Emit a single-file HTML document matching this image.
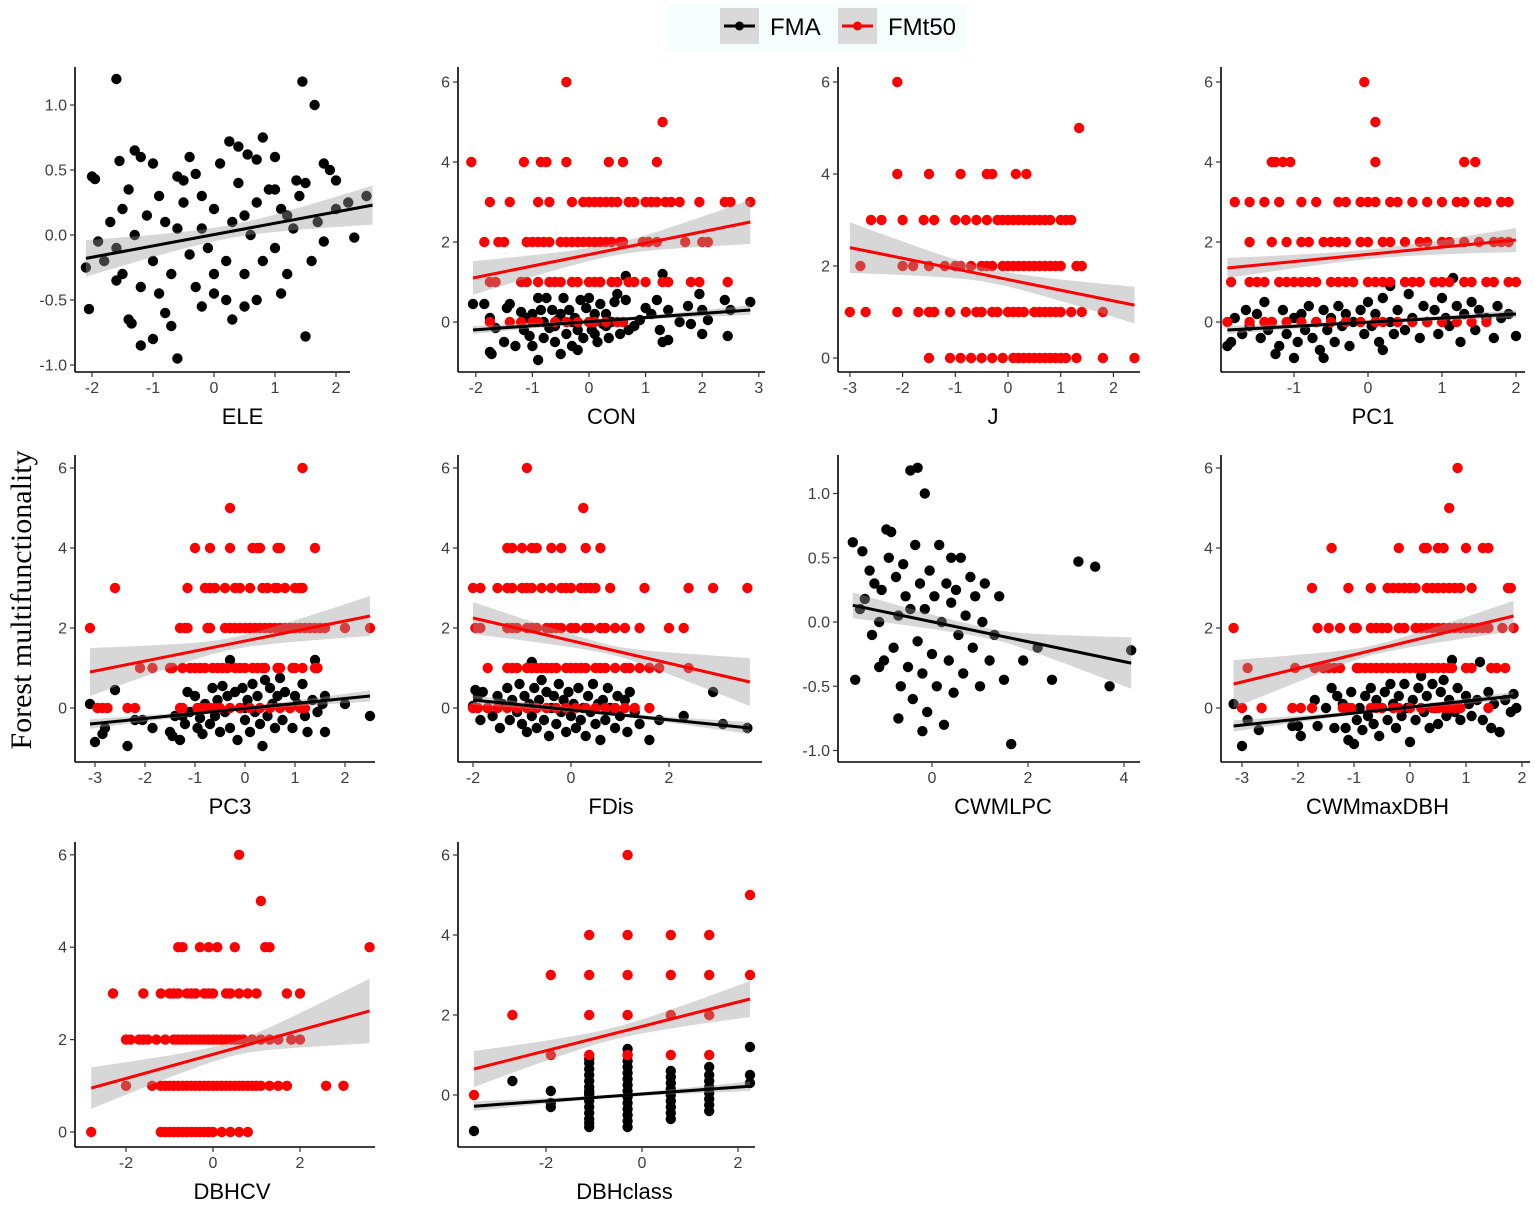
<!DOCTYPE html>
<html><head><meta charset="utf-8">
<style>
html,body{margin:0;padding:0;background:#fff;}
svg{display:block;font-family:"Liberation Sans",sans-serif;}
</style></head>
<body>
<svg id="chart" width="1535" height="1205" viewBox="0 0 1535 1205" xmlns="http://www.w3.org/2000/svg">
<rect x="0" y="0" width="1535" height="1205" fill="#fff"/>
<g>
<rect x="668" y="4" width="297" height="46" fill="#f6fdfd"/>
<g>
<rect x="720" y="8" width="39" height="36" fill="#d9d9d9"/>
<line x1="724" y1="26" x2="755" y2="26" stroke="#000" stroke-width="3"/>
<circle cx="739.5" cy="26" r="4.5" fill="#000"/>
<text x="770" y="35" font-size="24" fill="#000">FMA</text>
</g>
<g>
<rect x="838" y="8" width="39" height="36" fill="#d9d9d9"/>
<line x1="842" y1="26" x2="873" y2="26" stroke="#f00" stroke-width="3"/>
<circle cx="857.5" cy="26" r="4.5" fill="#f00"/>
<text x="888" y="35" font-size="24" fill="#000">FMt50</text>
</g>
</g>
<text transform="translate(31,600) rotate(-90)" text-anchor="middle" font-family="'Liberation Serif',serif" font-size="30" fill="#000">Forest multifunctionality</text>
<g id="panels"></g>
</svg>
<script>
// ---------- data ----------
const ELE_fma=[[-1.6,1.2],[1.45,1.18],[1.65,1.0],[-2,0.45],[-1.95,0.43],[-1.55,0.57],[-1.3,0.65],[-1.2,0.6],[-1.0,0.55],[-0.6,0.45],[-0.5,0.42],[-0.3,0.47],[0.25,0.72],[0.4,0.68],[0.55,0.62],[0.8,0.75],[0.7,0.58],[1.0,0.6],[1.35,0.42],[1.5,0.4],[1.8,0.55],[1.9,0.5],[2.0,0.42],[2.5,0.3],[-2.1,-0.25],[-2.05,-0.57],[-1.8,-0.2],[-1.6,-0.1],[-1.5,-0.3],[-1.4,-0.65],[-1.35,-0.68],[-1.2,-0.85],[-1.0,-0.8],[-0.6,-0.95],[-0.8,-0.6],[-0.7,-0.7],[-0.3,-0.4],[0,-0.45],[0.2,-0.5],[0.5,-0.55],[0.7,-0.5],[1.1,-0.45],[1.5,-0.78],[1.2,-0.3],[1.8,-0.05],[2.3,-0.02],[2.2,0.25],[2.0,0.2],[1.7,0.1],[1.3,0.05],[1.0,-0.1],[0.6,0.0],[0.3,0.1],[0.0,0.2],[-0.2,0.3],[-0.5,0.25],[-0.9,0.3],[-1.1,0.15],[-1.3,0.0],[-1.5,0.2],[-1.7,0.1],[-1.9,-0.05],[-1.0,-0.2],[-0.7,-0.3],[-0.4,-0.15],[-0.1,-0.1],[0.2,-0.2],[0.5,-0.3],[0.8,-0.2],[1.1,0.2],[1.4,0.3],[0.9,0.35],[0.4,0.4],[-0.2,0.05],[-0.6,0.05],[-1.2,-0.4],[-0.9,-0.45],[0.1,0.55],[-0.4,0.6],[1.2,0.15],[1.6,-0.2],[0.7,0.25],[-1.6,-0.35],[-0.8,0.1],[0.0,-0.3],[0.3,-0.65],[-0.2,-0.55],[1.0,0.35],[0.5,0.15],[-1.4,0.35]];
const ELE_fmaLine=[-2.1,-0.18,2.6,0.23];
const ELE_fmaCI=[0.14,0.05,0.15];

const CON_fma=[[-2.05,0.45],[-1.85,0.45],[-1.75,0.1],[-1.75,-0.75],[-1.72,-0.8],[-1.65,-0.15],[-1.5,-0.5],[-1.45,0.35],[-1.4,0.45],[-1.3,-0.6],[-1.2,0.25],[-1.15,-0.2],[-1.1,0.1],[-1.05,-0.35],[-1.0,-0.6],[-0.95,0.0],[-0.9,-0.95],[-0.9,0.6],[-0.85,0.3],[-0.8,-0.4],[-0.75,0.6],[-0.7,-0.15],[-0.65,0.3],[-0.6,-0.5],[-0.55,0.05],[-0.5,-0.8],[-0.45,0.6],[-0.4,-0.3],[-0.35,0.3],[-0.3,-0.6],[-0.25,0.1],[-0.2,-0.2],[-0.15,0.55],[-0.1,-0.4],[-0.05,0.35],[0,0.6],[0.05,-0.2],[0.1,0.2],[0.15,-0.5],[0.2,0.45],[0.25,-0.05],[0.3,0.2],[0.35,-0.4],[0.45,0.5],[0.5,0.7],[0.55,-0.3],[0.65,0.55],[0.65,1.15],[0.7,-0.2],[0.8,-0.1],[0.9,0.05],[1.0,0.35],[1.1,0.2],[1.2,0.55],[1.25,-0.2],[1.3,1.2],[1.3,-0.5],[1.4,-0.45],[1.4,0.3],[1.6,0.0],[1.75,0.4],[1.8,-0.05],[1.95,0.7],[2.0,0.3],[2.0,-0.3],[2.1,0.05],[2.4,0.55],[2.45,-0.35],[2.5,0.3],[2.85,0.5],[-0.8,0.0],[-0.6,-0.1],[-0.3,0.0],[0,0.0],[0.3,-0.1],[-1.0,0.2],[-0.5,0.2],[0.1,-0.3],[-0.2,-0.7],[0.4,0.0]];
const CON_fmt=[[-1.75,-1.4,-1.2,-1.0,-0.9,-0.6,-0.4,-0.2,0,0.1,0.3,0.5,0.6],[-1.75,-1.65,-1.2,-1.1,-0.9,-0.7,-0.6,-0.5,-0.3,-0.2,0,0.1,0.2,0.4,0.5,0.7,0.8,1.0,1.3,1.4,1.8,1.95,2.45],[-1.85,-1.6,-1.5,-1.1,-1.0,-0.9,-0.8,-0.7,-0.5,-0.4,-0.3,-0.2,-0.1,0,0.1,0.2,0.3,0.4,0.55,0.6,0.95,1.05,1.2,1.7,2.0,2.1],[-1.75,-1.4,-0.9,-0.7,-0.3,-0.1,0,0.1,0.2,0.3,0.4,0.5,0.7,0.8,1.0,1.1,1.2,1.35,1.45,1.6,1.95,2.4,2.5,2.85],[-2.08,-1.15,-0.85,-0.75,-0.4,0.35,0.6,1.2],[1.3],[-0.4]];
const CON_fmaLine=[-2.05,-0.2,2.85,0.3];
const CON_fmaCI=[0.1,0.04,0.12];
const CON_fmtLine=[-2.05,1.1,2.85,2.5];
const CON_fmtCI=[0.42,0.15,0.55];

const J_fmt=[[-1.5,-1.1,-0.9,-0.7,-0.5,-0.3,-0.1,0.1,0.2,0.3,0.4,0.5,0.6,0.7,0.8,0.9,1.0,1.1,1.3,1.8,2.4],[-3.0,-2.7,-2.1,-1.7,-1.5,-1.4,-1.1,-0.8,-0.6,-0.5,-0.3,-0.2,0,0.1,0.2,0.3,0.5,0.6,0.7,0.8,0.9,1.0,1.2,1.4,1.8],[-2.8,-2.0,-1.8,-1.5,-1.2,-1.0,-0.9,-0.7,-0.5,-0.4,-0.3,-0.1,0,0.1,0.2,0.3,0.4,0.5,0.6,0.7,0.8,0.9,1.0,1.3,1.4],[-2.6,-2.4,-2.0,-1.6,-1.4,-1.0,-0.8,-0.6,-0.4,-0.2,-0.1,0,0.1,0.2,0.3,0.4,0.5,0.6,0.7,0.8,1.0,1.1,1.2],[-2.1,-1.5,-0.9,-0.4,-0.3,0.15,0.35],[1.35],[-2.1]];
const J_fmtLine=[-3.0,2.4,2.4,1.15];
const J_fmtCI=[0.55,0.15,0.4];

const PC1_fma=[[-1.9,-0.6],[-1.85,-0.5],[-1.8,0.1],[-1.7,-0.3],[-1.65,0.3],[-1.6,-0.1],[-1.5,0.2],[-1.45,-0.4],[-1.4,0.5],[-1.35,-0.2],[-1.3,0.0],[-1.25,-0.8],[-1.2,-0.6],[-1.15,0.3],[-1.1,-0.3],[-1.0,0.1],[-0.95,-0.5],[-0.9,0.2],[-0.85,-0.2],[-0.8,0.4],[-0.75,-0.4],[-0.7,0.0],[-0.65,-0.7],[-0.6,0.3],[-0.55,-0.2],[-0.5,0.1],[-0.45,-0.5],[-0.4,0.4],[-0.35,-0.1],[-0.3,0.2],[-0.25,-0.6],[-0.2,0.0],[-0.1,0.3],[-0.05,-0.3],[0,0.5],[0.05,-0.1],[0.1,0.2],[0.15,-0.5],[0.2,0.6],[0.3,0.0],[0.35,-0.3],[0.4,0.3],[0.5,-0.2],[0.55,0.7],[0.6,0.1],[0.7,-0.4],[0.75,0.4],[0.8,0.0],[0.9,0.3],[0.95,-0.3],[1.0,0.6],[1.05,0.1],[1.1,-0.1],[1.2,0.4],[1.25,-0.5],[1.3,0.2],[1.4,0.5],[1.45,-0.2],[1.5,0.3],[1.6,0.1],[1.7,-0.4],[1.75,0.4],[1.8,0.1],[1.9,0.2],[2.0,-0.35],[-0.6,-0.9],[0.2,-0.7],[-1.0,-0.9],[1.15,1.1],[0.3,0.9]];
const PC1_fmt=[[-1.9,-1.6,-1.4,-1.3,-1.1,-0.9,-0.7,-0.5,-0.3,-0.1,0.1,0.2,0.4,0.6,0.8,1.0,1.2,1.4,1.6],[-1.85,-1.6,-1.5,-1.4,-1.2,-1.1,-1.0,-0.9,-0.8,-0.7,-0.5,-0.4,-0.3,-0.2,0,0.1,0.2,0.3,0.5,0.6,0.7,0.9,1.0,1.1,1.3,1.4,1.6,1.7,1.9,2.0],[-1.6,-1.3,-1.1,-0.9,-0.8,-0.6,-0.5,-0.4,-0.3,-0.1,0,0.2,0.3,0.5,0.7,0.8,1.0,1.1,1.3,1.5,1.7,1.8,1.9],[-1.8,-1.6,-1.4,-1.2,-0.9,-0.7,-0.4,-0.3,-0.1,0,0.1,0.3,0.4,0.6,0.8,1.0,1.2,1.3,1.5,1.6,1.8,1.9],[-1.3,-1.25,-1.15,-1.05,0.1,1.3,1.45],[0.1],[-0.05]];
const PC1_fmaLine=[-1.9,-0.2,2.0,0.2];
const PC1_fmaCI=[0.1,0.04,0.1];
const PC1_fmtLine=[-1.9,1.35,2.0,2.05];
const PC1_fmtCI=[0.25,0.12,0.3];

const PC3_fma=[[-3.1,0.1],[-3.0,-0.85],[-2.85,-0.65],[-2.8,-0.5],[-2.6,0.45],[-2.35,-0.95],[-2.2,-0.3],[-2.05,-0.3],[-1.85,-0.5],[-1.5,-0.6],[-1.45,-0.7],[-1.4,-0.2],[-1.3,-0.8],[-1.2,-0.4],[-1.15,0.4],[-1.1,-0.1],[-1.0,0.3],[-0.95,-0.5],[-0.9,-0.25],[-0.85,-0.65],[-0.8,0.1],[-0.7,-0.4],[-0.65,0.5],[-0.6,-0.2],[-0.55,0.2],[-0.5,-0.6],[-0.45,0.55],[-0.4,-0.1],[-0.35,0.3],[-0.3,1.2],[-0.3,-0.5],[-0.2,0.4],[-0.15,-0.8],[-0.1,0.0],[-0.05,0.5],[0,-0.3],[0.05,0.2],[0.1,-0.6],[0.15,0.6],[0.2,-0.1],[0.25,0.3],[0.3,-0.4],[0.35,-0.95],[0.4,0.7],[0.45,-0.2],[0.5,0.5],[0.55,0.1],[0.6,-0.5],[0.65,0.3],[0.7,0.75],[0.75,-0.3],[0.8,0.4],[0.9,0.0],[0.95,-0.5],[1.0,0.3],[1.05,0.1],[1.15,0.6],[1.2,-0.2],[1.25,-0.6],[1.35,0.2],[1.4,1.2],[1.45,-0.1],[1.55,0.1],[1.6,0.3],[1.6,-0.6],[2.0,0.1],[2.5,-0.2],[-1.25,-0.2],[-0.75,0.0],[0.0,0.0]];
const PC3_fmt=[[-2.95,-2.85,-2.75,-2.35,-2.2,-1.3,-1.25,-0.95,-0.9,-0.8,-0.7,-0.6,-0.5,-0.3,-0.1,0.1,0.3,0.5,0.7,0.9,1.1,1.2],[-2.1,-1.85,-1.5,-1.45,-1.25,-1.1,-1.0,-0.9,-0.8,-0.65,-0.55,-0.45,-0.35,-0.2,-0.1,0,0.15,0.25,0.35,0.4,0.65,0.7,0.95,1.0,1.15,1.4,1.45],[-3.1,-1.3,-1.2,-1.15,-0.75,-0.7,-0.4,-0.3,-0.2,-0.1,0,0.1,0.2,0.3,0.4,0.5,0.6,0.7,0.8,0.9,1.0,1.1,1.2,1.3,1.4,1.5,1.6,2.0,2.5],[-2.6,-1.15,-0.8,-0.7,-0.6,-0.4,-0.2,-0.1,0.1,0.35,0.45,0.6,0.65,0.8,1.0,1.1,1.15],[-1.0,-0.7,-0.3,0.15,0.25,0.3,0.65,0.7,1.4],[-0.3],[1.15]];
const PC3_fmaLine=[-3.1,-0.4,2.5,0.3];
const PC3_fmaCI=[0.12,0.04,0.14];
const PC3_fmtLine=[-3.1,0.9,2.5,2.3];
const PC3_fmtCI=[0.6,0.15,0.5];

const FDIS_fma=[[-2.0,0.05],[-1.95,0.45],[-1.9,0.3],[-1.85,-0.3],[-1.8,0.4],[-1.7,0.0],[-1.6,-0.2],[-1.5,0.3],[-1.45,-0.5],[-1.4,0.1],[-1.3,0.5],[-1.25,-0.3],[-1.2,0.2],[-1.1,-0.1],[-1.05,0.6],[-1.0,-0.4],[-0.95,0.3],[-0.9,-0.6],[-0.85,0.1],[-0.8,1.15],[-0.8,-0.2],[-0.75,0.5],[-0.7,-0.5],[-0.65,0.2],[-0.6,0.7],[-0.55,-0.3],[-0.5,0.4],[-0.45,-0.7],[-0.4,0.0],[-0.35,0.3],[-0.3,-0.4],[-0.25,0.6],[-0.2,-0.1],[-0.15,0.2],[-0.1,-0.6],[-0.05,0.4],[0,-0.2],[0.05,0.1],[0.1,-0.5],[0.15,0.5],[0.2,-0.3],[0.25,0.0],[0.3,-0.7],[0.35,0.3],[0.4,-0.1],[0.45,0.6],[0.5,-0.4],[0.55,0.1],[0.6,-0.8],[0.65,0.2],[0.7,-0.3],[0.75,0.5],[0.8,0.0],[0.9,-0.5],[0.95,0.3],[1.0,-0.2],[1.1,0.2],[1.15,-0.6],[1.2,0.4],[1.3,-0.1],[1.4,-0.4],[1.6,-0.8],[1.8,-0.3],[2.3,-0.2],[2.9,0.4],[3.1,-0.4],[3.6,-0.5]];
const FDIS_fmt=[[-2.0,-1.9,-1.7,-1.5,-1.3,-1.1,-0.9,-0.7,-0.5,-0.3,-0.1,0.1,0.3,0.5,0.7,0.9,1.1,1.3,1.6],[-1.7,-1.3,-1.2,-1.1,-0.9,-0.8,-0.7,-0.6,-0.5,-0.4,-0.3,-0.1,0,0.1,0.2,0.3,0.5,0.6,0.7,0.9,1.1,1.2,1.4,1.6,1.8,2.4],[-1.95,-1.85,-1.3,-1.2,-1.1,-0.9,-0.8,-0.7,-0.5,-0.4,-0.3,-0.2,0,0.1,0.3,0.4,0.6,0.7,0.9,1.1,1.4,2.0,2.3],[-2.0,-1.85,-1.5,-1.3,-1.2,-1.0,-0.9,-0.8,-0.6,-0.4,-0.2,-0.1,0,0.2,0.3,0.4,0.5,0.8,1.5,2.4,2.9,3.6],[-1.3,-1.2,-1.0,-0.8,-0.7,-0.4,-0.2,0.3,0.6],[0.25],[-0.9]];
const FDIS_fmaLine=[-2.0,0.2,3.65,-0.5];
const FDIS_fmaCI=[0.12,0.04,0.15];
const FDIS_fmtLine=[-2.0,2.25,3.65,0.65];
const FDIS_fmtCI=[0.4,0.12,0.6];

const CWMLPC_fma=[[-1.65,0.62],[-1.6,-0.45],[-1.5,0.1],[-1.45,0.55],[-1.4,0.18],[-1.3,0.4],[-1.25,-0.1],[-1.2,0.3],[-1.1,0.0],[-1.05,0.25],[-1.0,-0.3],[-0.95,0.72],[-0.9,0.5],[-0.85,0.7],[-0.8,-0.2],[-0.75,0.35],[-0.7,0.05],[-0.65,-0.5],[-0.6,0.45],[-0.55,0.2],[-0.5,-0.35],[-0.45,1.18],[-0.45,0.1],[-0.4,-0.6],[-0.35,0.6],[-0.3,1.2],[-0.3,-0.15],[-0.25,0.3],[-0.2,-0.4],[-0.15,1.0],[-0.15,0.1],[-0.1,-0.7],[-0.05,0.4],[0,-0.25],[0.05,0.2],[0.1,-0.5],[0.15,0.6],[0.2,0.0],[0.25,-0.8],[0.3,0.3],[0.35,-0.3],[0.4,0.15],[0.45,-0.55],[0.5,0.25],[0.55,-0.1],[0.6,0.5],[0.65,-0.4],[0.7,0.05],[0.8,0.35],[0.85,-0.2],[0.9,0.2],[1.0,-0.5],[1.05,0.0],[1.1,0.3],[1.2,-0.3],[1.3,-0.1],[1.4,0.2],[1.5,-0.45],[1.65,-0.95],[1.9,-0.3],[2.2,-0.2],[2.5,-0.45],[3.05,0.47],[3.4,0.43],[3.7,-0.5],[4.15,-0.22],[-0.7,-0.75],[-0.2,-0.85],[0.4,0.5],[-1.1,-0.35]];
const CWMLPC_fmaLine=[-1.65,0.13,4.15,-0.32];
const CWMLPC_fmaCI=[0.1,0.04,0.2];

const CWMMAX_fma=[[-3.15,0.1],[-3.0,-0.95],[-2.9,-0.3],[-2.7,-0.55],[-2.1,-0.45],[-2.0,-0.45],[-1.95,-0.7],[-1.7,0.2],[-1.65,-0.45],[-1.5,0.0],[-1.4,0.5],[-1.35,-0.5],[-1.3,0.3],[-1.2,0.1],[-1.15,-0.5],[-1.1,-0.8],[-1.05,0.4],[-1.0,-0.9],[-0.95,-0.3],[-0.9,0.0],[-0.85,-0.55],[-0.8,0.3],[-0.75,-0.2],[-0.7,0.5],[-0.65,-0.4],[-0.6,0.2],[-0.55,-0.7],[-0.5,0.0],[-0.45,0.4],[-0.4,-0.3],[-0.35,0.6],[-0.3,0.1],[-0.25,-0.5],[-0.2,0.3],[-0.15,-0.2],[-0.1,0.6],[-0.05,0.0],[0,-0.85],[0.05,0.2],[0.1,-0.3],[0.15,0.5],[0.2,0.8],[0.25,-0.1],[0.3,0.3],[0.35,-0.5],[0.4,0.6],[0.45,0.0],[0.5,-0.4],[0.55,0.4],[0.6,0.7],[0.65,-0.2],[0.7,0.2],[0.75,1.2],[0.8,-0.1],[0.85,0.5],[0.9,-0.3],[1.0,0.3],[1.05,0.1],[1.1,-0.2],[1.2,0.2],[1.25,1.15],[1.3,-0.3],[1.4,0.4],[1.45,-0.5],[1.5,0.1],[1.6,-0.6],[1.7,0.2],[1.8,-0.1],[1.85,0.35],[1.9,0.0]];
const CWMMAX_fmt=[[-3.0,-2.65,-2.1,-1.95,-1.75,-1.2,-1.1,-1.05,-0.7,-0.6,-0.5,-0.3,-0.2,0,0.2,0.4,0.5,0.6,0.7,0.8,0.9,1.4],[-2.9,-2.05,-1.7,-1.55,-1.45,-1.35,-1.25,-0.95,-0.9,-0.8,-0.7,-0.6,-0.5,-0.4,-0.3,-0.2,-0.1,0,0.1,0.2,0.3,0.4,0.5,0.6,0.7,0.75,1.0,1.1,1.45,1.55,1.7],[-3.15,-1.65,-1.45,-1.25,-1.0,-0.95,-0.7,-0.6,-0.5,-0.4,-0.2,-0.1,0.1,0.2,0.3,0.4,0.5,0.6,0.7,0.8,0.9,1.0,1.1,1.2,1.3,1.4,1.65,1.85],[-1.75,-1.1,-0.7,-0.4,-0.3,-0.2,-0.1,0,0.1,0.3,0.4,0.5,0.6,0.7,0.8,0.9,1.1,1.75,1.8],[-1.4,-0.2,0.25,0.3,0.5,0.6,1.0,1.3,1.4],[0.7],[0.85]];
const CWMMAX_fmaLine=[-3.15,-0.45,1.85,0.3];
const CWMMAX_fmaCI=[0.14,0.04,0.1];
const CWMMAX_fmtLine=[-3.15,0.6,1.85,2.3];
const CWMMAX_fmtCI=[0.6,0.12,0.38];

const DBHCV_fmt=[[-2.8,-1.2,-1.1,-1.0,-0.9,-0.8,-0.7,-0.6,-0.5,-0.4,-0.3,-0.2,-0.1,0,0.2,0.4,0.6,0.8],[-2.0,-1.4,-1.2,-1.1,-1.0,-0.9,-0.8,-0.7,-0.6,-0.5,-0.4,-0.3,-0.2,-0.1,0,0.1,0.2,0.3,0.4,0.5,0.6,0.7,0.8,0.9,1.0,1.1,1.3,1.5,1.7,2.6,3.0],[-2.0,-1.9,-1.7,-1.6,-1.5,-1.3,-1.1,-0.9,-0.8,-0.7,-0.6,-0.5,-0.4,-0.3,-0.2,-0.1,0,0.1,0.2,0.3,0.4,0.5,0.6,0.7,0.9,1.1,1.3,1.5,1.8,2.0],[-2.3,-1.6,-1.2,-1.0,-0.9,-0.8,-0.6,-0.5,-0.4,-0.2,-0.1,0,0.3,0.4,0.6,0.8,1.0,1.7,2.0],[-0.8,-0.7,-0.3,-0.1,0.1,0.5,1.2,1.3,3.6],[1.1],[0.6]];
const DBHCV_fmtLine=[-2.8,0.95,3.6,2.62];
const DBHCV_fmtCI=[0.45,0.15,0.7];

const DBHCLASS_cols=[-3.5,-2.7,-1.9,-1.1,-0.3,0.6,1.4,2.25];
const DBHCLASS_colY=[[-0.9],[0.35],[-0.2,0.1,-0.3],[-0.8,-0.6,-0.45,-0.3,-0.15,0,0.1,0.2,0.35,0.5,0.65,0.8,0.9,-0.7,0.05],[-0.8,-0.65,-0.5,-0.35,-0.2,-0.05,0.1,0.25,0.4,0.55,0.7,0.85,1.0,1.15],[-0.6,-0.45,-0.3,-0.15,0,0.15,0.3,0.45,0.6],[-0.4,-0.25,-0.1,0.05,0.2,0.35,0.5,0.7],[0.3,0.5,1.2]];
const DBHCLASS_fmt=[[-3.5],[-1.9,-1.1,-0.3,0.6,1.4],[-2.7,-1.1,-0.3,0.6,1.4],[-1.9,-1.1,-0.3,0.6,1.4,2.25],[-1.1,-0.3,0.6,1.4],[2.25],[-0.3]];
const DBHCLASS_fmaLine=[-3.5,-0.28,2.25,0.22];
const DBHCLASS_fmaCI=[0.12,0.04,0.12];
const DBHCLASS_fmtLine=[-3.5,0.65,2.25,2.4];
const DBHCLASS_fmtCI=[0.45,0.15,0.45];

const ticksA=[-1.0,-0.5,0.0,0.5,1.0];
const ticksB=[0,2,4,6];

// ---------- drawing ----------
const NS="http://www.w3.org/2000/svg";
const root=document.getElementById('panels');
function mk(tag,attrs,parent){const e=document.createElementNS(NS,tag);for(const k in attrs)e.setAttribute(k,attrs[k]);parent.appendChild(e);return e;}

function band(g,sx,sy,line,ci,name){
  const [x0,y0,x1,y1]=line;const xm=(x0+x1)/2,h=(x1-x0)/2;
  const f=x=>y0+(y1-y0)*(x-x0)/(x1-x0);
  const hw=x=>{const t=(x-xm)/h;const e=t<0?ci[0]:ci[2];return Math.sqrt(ci[1]*ci[1]+(e*e-ci[1]*ci[1])*t*t);};
  let up=[],lo=[];
  for(let i=0;i<=40;i++){const x=x0+(x1-x0)*i/40;up.push(sx(x).toFixed(1)+','+sy(f(x)+hw(x)).toFixed(1));lo.unshift(sx(x).toFixed(1)+','+sy(f(x)-hw(x)).toFixed(1));}
  const p=mk('polygon',{points:up.concat(lo).join(' '),fill:'#9a9a9a','fill-opacity':0.4},g);
  
  
}
function fitLine(g,sx,sy,line,color,name){
  const l=mk('line',{x1:sx(line[0]),y1:sy(line[1]),x2:sx(line[2]),y2:sy(line[3]),stroke:color,'stroke-width':3},g);
  
  
}
function dots(g,sx,sy,pts,color,name){
  pts.forEach(p=>{const c=mk('circle',{cx:sx(p[0]).toFixed(1),cy:sy(p[1]).toFixed(1),r:5.2,fill:color},g);
    
    });
}
function levels(arr){const out=[];arr.forEach((xs,lv)=>xs.forEach(x=>out.push([x,lv])));return out;}

function panel(cfg){
  const g=mk('g',{},root);
  
  
  const sx=v=>cfg.x0+cfg.kx*v, sy=v=>cfg.y0-cfg.ky*v;
  if(cfg.fma) dots(g,sx,sy,cfg.fma,'#000','fma');
  if(cfg.fmt) dots(g,sx,sy,cfg.fmt,'#ff0000','fmt50');
  if(cfg.fmtLine){band(g,sx,sy,cfg.fmtLine,cfg.fmtCI,'fmt50');}
  if(cfg.fmaLine){band(g,sx,sy,cfg.fmaLine,cfg.fmaCI,'fma');}
  if(cfg.fmtLine) fitLine(g,sx,sy,cfg.fmtLine,'#ff0000','fmt50');
  if(cfg.fmaLine) fitLine(g,sx,sy,cfg.fmaLine,'#000','fma');
  const xa=mk('line',{x1:cfg.L,y1:cfg.B,x2:cfg.R,y2:cfg.B,stroke:'#000','stroke-width':1.6},g);
  
  
  const ya=mk('line',{x1:cfg.L,y1:cfg.T,x2:cfg.L,y2:cfg.B,stroke:'#000','stroke-width':1.6},g);
  
  
  cfg.xt.forEach(v=>{const x=sx(v);
    mk('line',{x1:x,y1:cfg.B,x2:x,y2:cfg.B+5,stroke:'#333','stroke-width':1.2},g);
    const t=mk('text',{x:x,y:cfg.B+21,'text-anchor':'middle','font-size':16,fill:'#3d3d3d'},g);
    t.textContent=v<0?'-'+Math.abs(v):String(v);
    
    });
  cfg.yt.forEach(v=>{const y=sy(v);
    mk('line',{x1:cfg.L-5,y1:y,x2:cfg.L,y2:y,stroke:'#333','stroke-width':1.2},g);
    const t=mk('text',{x:cfg.L-8,y:y+5.5,'text-anchor':'end','font-size':16,fill:'#3d3d3d'},g);
    t.textContent=cfg.dec?(v<0?'-'+Math.abs(v).toFixed(1):v.toFixed(1)):String(v);
    
    });
  const tt=mk('text',{x:(cfg.L+cfg.R)/2+cfg.tOff,y:cfg.B+52,'text-anchor':'middle','font-size':22,fill:'#000'},g);
  tt.textContent=cfg.id;
  
  
}

const R1={T:67,B:372}, R2={T:455,B:762}, R3={T:842,B:1147};
panel({id:'ELE',L:75,R:350,...R1,x0:214,kx:61,y0:235,ky:130,xt:[-2,-1,0,1,2],yt:ticksA,dec:true,tOff:30,
  fma:ELE_fma,fmaLine:ELE_fmaLine,fmaCI:ELE_fmaCI});
panel({id:'CON',L:458,R:765,...R1,x0:589,kx:56.6,y0:322,ky:40,xt:[-2,-1,0,1,2,3],yt:ticksB,tOff:0,
  fma:CON_fma,fmt:levels(CON_fmt),fmaLine:CON_fmaLine,fmaCI:CON_fmaCI,fmtLine:CON_fmtLine,fmtCI:CON_fmtCI});
panel({id:'J',L:838,R:1140,...R1,x0:1008,kx:52.7,y0:358,ky:46,xt:[-3,-2,-1,0,1,2],yt:ticksB,tOff:4,
  fmt:levels(J_fmt),fmtLine:J_fmtLine,fmtCI:J_fmtCI});
panel({id:'PC1',L:1221,R:1525,...R1,x0:1368,kx:74,y0:322,ky:40,xt:[-1,0,1,2],yt:ticksB,tOff:0,
  fma:PC1_fma,fmt:levels(PC1_fmt),fmaLine:PC1_fmaLine,fmaCI:PC1_fmaCI,fmtLine:PC1_fmtLine,fmtCI:PC1_fmtCI});
panel({id:'PC3',L:75,R:375,...R2,x0:245,kx:50,y0:708,ky:40,xt:[-3,-2,-1,0,1,2],yt:ticksB,tOff:5,
  fma:PC3_fma,fmt:levels(PC3_fmt),fmaLine:PC3_fmaLine,fmaCI:PC3_fmaCI,fmtLine:PC3_fmtLine,fmtCI:PC3_fmtCI});
panel({id:'FDis',L:458,R:762,...R2,x0:571,kx:49,y0:708,ky:40,xt:[-2,0,2],yt:ticksB,tOff:1,
  fma:FDIS_fma,fmt:levels(FDIS_fmt),fmaLine:FDIS_fmaLine,fmaCI:FDIS_fmaCI,fmtLine:FDIS_fmtLine,fmtCI:FDIS_fmtCI});
panel({id:'CWMLPC',L:838,R:1140,...R2,x0:932,kx:48,y0:622,ky:128.5,xt:[0,2,4],yt:ticksA,dec:true,tOff:14,
  fma:CWMLPC_fma,fmaLine:CWMLPC_fmaLine,fmaCI:CWMLPC_fmaCI});
panel({id:'CWMmaxDBH',L:1221,R:1530,...R2,x0:1410,kx:56,y0:708,ky:40,xt:[-3,-2,-1,0,1,2],yt:ticksB,tOff:2,
  fma:CWMMAX_fma,fmt:levels(CWMMAX_fmt),fmaLine:CWMMAX_fmaLine,fmaCI:CWMMAX_fmaCI,fmtLine:CWMMAX_fmtLine,fmtCI:CWMMAX_fmtCI});
panel({id:'DBHCV',L:75,R:375,...R3,x0:213,kx:43.5,y0:1132,ky:46.2,xt:[-2,0,2],yt:ticksB,tOff:7,
  fmt:levels(DBHCV_fmt),fmtLine:DBHCV_fmtLine,fmtCI:DBHCV_fmtCI});
const dbhPts=[];DBHCLASS_cols.forEach((x,i)=>DBHCLASS_colY[i].forEach(y=>dbhPts.push([x,y])));
panel({id:'DBHclass',L:458,R:755,...R3,x0:642,kx:48,y0:1095,ky:40,xt:[-2,0,2],yt:ticksB,tOff:18,
  fma:dbhPts,fmt:levels(DBHCLASS_fmt),fmaLine:DBHCLASS_fmaLine,fmaCI:DBHCLASS_fmaCI,fmtLine:DBHCLASS_fmtLine,fmtCI:DBHCLASS_fmtCI});
</script>
</body></html>
